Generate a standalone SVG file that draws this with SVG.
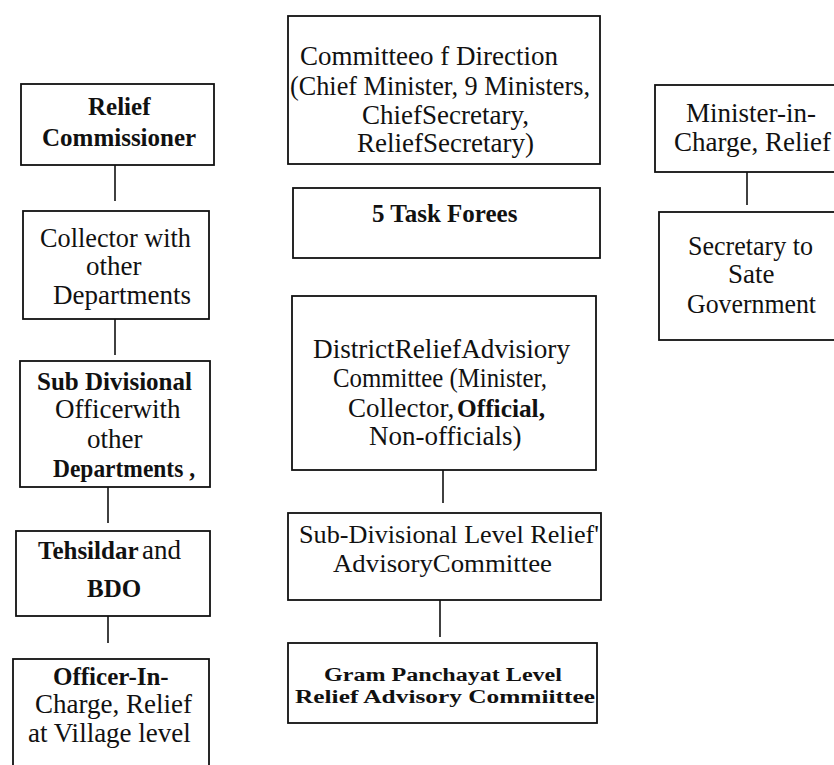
<svg xmlns="http://www.w3.org/2000/svg" width="834" height="765" viewBox="0 0 834 765">
<style>
.box{fill:#fff;stroke:#111;stroke-width:1.8}
.t{font-family:'Liberation Serif','DejaVu Serif',serif;font-size:27px;fill:#111}
.b{font-weight:bold;font-size:25px}
.g{font-weight:bold;font-size:24px}
.s{font-size:26px}
#connectors line{stroke:#111;stroke-width:1.6}
</style>
<rect width="834" height="765" fill="#fff"/>
<g id="connectors">
<line x1="115" y1="165" x2="115" y2="201"/>
<line x1="115" y1="319" x2="115" y2="355"/>
<line x1="108" y1="487" x2="108" y2="523"/>
<line x1="108" y1="616" x2="108" y2="643"/>
<line x1="443" y1="470" x2="443" y2="503"/>
<line x1="440" y1="600" x2="440" y2="637"/>
<line x1="747" y1="172" x2="747" y2="205"/>
</g>
<g id="relief-commissioner">
<rect class="box" x="21" y="84" width="193" height="81"/>
<text class="t b" x="88" y="115">Relief</text>
<text class="t b" x="42" y="146">Commissioner</text>
</g>
<g id="collector">
<rect class="box" x="23" y="211" width="186" height="108"/>
<text class="t" x="40" y="247" textLength="151" lengthAdjust="spacingAndGlyphs">Collector with</text>
<text class="t" x="86" y="275">other</text>
<text class="t" x="53" y="304">Departments</text>
</g>
<g id="sub-divisional-officer">
<rect class="box" x="20" y="361" width="190" height="126"/>
<text class="t b" x="37" y="390">Sub Divisional</text>
<text class="t" x="55" y="418">Officerwith</text>
<text class="t" x="87" y="448">other</text>
<text class="t b" x="53" y="477" textLength="142" lengthAdjust="spacingAndGlyphs">Departments ,</text>
</g>
<g id="tehsildar">
<rect class="box" x="16" y="531" width="194" height="85"/>
<text class="t b" x="38" y="559">Tehsildar</text>
<text class="t" x="142" y="559">and</text>
<text class="t b" x="87" y="597">BDO</text>
</g>
<g id="officer-in-charge">
<rect class="box" x="13" y="659" width="196" height="120"/>
<text class="t b" x="53" y="685">Officer-In-</text>
<text class="t" x="35" y="713">Charge, Relief</text>
<text class="t" x="28" y="742">at Village level</text>
</g>
<g id="committee-of-direction">
<rect class="box" x="288" y="16" width="312" height="148"/>
<text class="t" x="300" y="65">Committeeo f Direction</text>
<text class="t" x="290" y="95" textLength="300" lengthAdjust="spacingAndGlyphs">(Chief Minister, 9 Ministers,</text>
<text class="t" x="362" y="124">ChiefSecretary,</text>
<text class="t" x="357" y="152">ReliefSecretary)</text>
</g>
<g id="task-forces">
<rect class="box" x="293" y="188" width="307" height="70"/>
<text class="t b" x="372" y="222">5 Task Forees</text>
</g>
<g id="district-committee">
<rect class="box" x="292" y="296" width="304" height="174"/>
<text class="t" x="313" y="358" textLength="257" lengthAdjust="spacingAndGlyphs">DistrictReliefAdvisiory</text>
<text class="t" x="333" y="387" textLength="214" lengthAdjust="spacingAndGlyphs">Committee (Minister,</text>
<text class="t" x="348" y="417">Collector,</text>
<text class="t b" x="457" y="417" textLength="88" lengthAdjust="spacingAndGlyphs">Official,</text>
<text class="t" x="369" y="445">Non-officials)</text>
</g>
<g id="sub-divisional-committee">
<rect class="box" x="288" y="513" width="313" height="87"/>
<text class="t s" x="299" y="543" textLength="300" lengthAdjust="spacingAndGlyphs">Sub-Divisional Level Relief'</text>
<text class="t s" x="333" y="572" textLength="219" lengthAdjust="spacingAndGlyphs">AdvisoryCommittee</text>
</g>
<g id="gram-panchayat-committee">
<rect class="box" x="288" y="643" width="309" height="80"/>
<text class="t g" transform="translate(324,681) scale(1,0.78)" x="0" y="0" textLength="238" lengthAdjust="spacingAndGlyphs">Gram Panchayat Level</text>
<text class="t g" transform="translate(295,703) scale(1,0.76)" x="0" y="0" textLength="300" lengthAdjust="spacingAndGlyphs">Relief Advisory Commiittee</text>
</g>
<g id="minister-in-charge">
<rect class="box" x="655" y="85" width="200" height="87"/>
<text class="t" x="686" y="122">Minister-in-</text>
<text class="t" x="674" y="151">Charge, Relief</text>
</g>
<g id="secretary">
<rect class="box" x="659" y="212" width="200" height="128"/>
<text class="t" x="688" y="255" textLength="125" lengthAdjust="spacingAndGlyphs">Secretary to</text>
<text class="t" x="728" y="283">Sate</text>
<text class="t" x="687" y="313" textLength="129" lengthAdjust="spacingAndGlyphs">Government</text>
</g>
</svg>
